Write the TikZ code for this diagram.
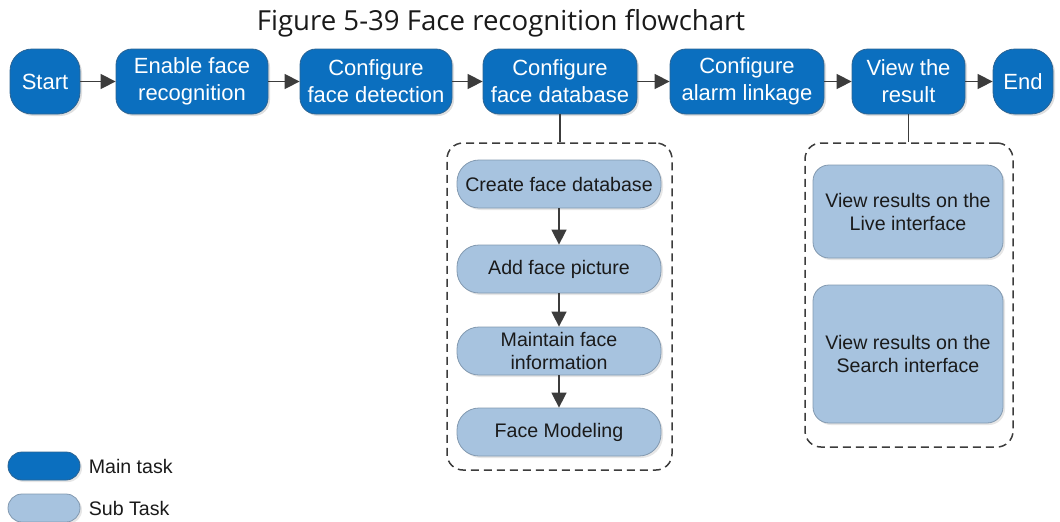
\documentclass[tikz,border=0pt]{standalone}
\usepackage{fontspec}
\setmainfont{Liberation Sans}
\newfontfamily\titlefont{Open Sans}
\usetikzlibrary{arrows.meta,positioning,shadows}
\definecolor{mainblue}{HTML}{0B6FBF}
\definecolor{mainedge}{HTML}{2B6494}
\definecolor{subblue}{HTML}{A7C3DF}
\definecolor{subedge}{HTML}{8299B0}
\definecolor{flowink}{HTML}{3C3C3C}
\definecolor{textink}{HTML}{1A1A1A}

\begin{document}
\begin{tikzpicture}[
  x=0.5pt,
  y=-0.5pt,
  every node/.style={textink},
  mainbox/.style={draw=mainedge, line width=0.4pt, fill=mainblue, text=white,
                  rounded corners=8pt, align=center, inner sep=1pt,
                  minimum height=32.5pt, font=\fontsize{11}{13.5}\selectfont,
                  drop shadow={opacity=0.25, shadow xshift=1pt, shadow yshift=-1pt}},
  endbox/.style={mainbox, rounded corners=11pt},
  subbox/.style={draw=subedge, line width=0.4pt, fill=subblue, text=textink,
                 rounded corners=11pt, align=center, inner sep=1pt,
                 minimum width=102pt, minimum height=24pt,
                 font=\fontsize{9.8}{11.5}\selectfont,
                 drop shadow={opacity=0.2, shadow xshift=1pt, shadow yshift=-1pt}},
  viewbox/.style={subbox, rounded corners=8pt, minimum width=95pt},
  group/.style={draw=flowink, line width=0.75pt, dash pattern=on 4pt off 2.5pt,
                rounded corners=8pt, inner sep=0pt},
  flow/.style={flowink, line width=0.75pt, -{Triangle[length=7.5pt, width=7.5pt]}},
  link/.style={flowink, line width=0.75pt},
  legend/.style={draw=subedge, line width=0.4pt, rounded corners=7pt,
                 minimum width=36pt, minimum height=14pt, inner sep=0pt,
                 drop shadow={opacity=0.2, shadow xshift=1pt, shadow yshift=-1pt}},
  legendtext/.style={anchor=west, inner sep=0pt, font=\fontsize{9.8}{11.5}\selectfont}
]
  \useasboundingbox (0,0) rectangle (1060,521);

  % ---- title ----
  \node[font=\titlefont\fontsize{13.8}{16}\selectfont] (title) at (501,23)
    {Figure 5-39 Face recognition flowchart};

  % ---- main tasks ----
  \node[endbox, minimum width=35pt]  (start)  at (45,81.5)   {Start};
  \node[mainbox, minimum width=76pt] (enable) at (192,81.5)  {Enable face\\recognition};
  \node[mainbox, minimum width=76pt] (detect) at (376,81.5)  {Configure\\face detection};
  \node[mainbox, minimum width=77pt] (db)     at (560,81.5)  {Configure\\face database};
  \node[mainbox, minimum width=77pt] (alarm)  at (747,81.5)  {Configure\\alarm linkage};
  \node[mainbox, minimum width=56.5pt] (view) at (908.5,81.5) {View the\\result};
  \node[endbox, minimum width=30pt]  (finish) at (1023,81.5) {End};

  \draw[flow] (start)  -- (enable);
  \draw[flow] (enable) -- (detect);
  \draw[flow] (detect) -- (db);
  \draw[flow] (db)     -- (alarm);
  \draw[flow] (alarm)  -- (view);
  \draw[flow] (view)   -- (finish);

  % ---- face database sub tasks ----
  \node[group, minimum width=112.5pt, minimum height=163.5pt] (dbgroup) at (559.5,306.5) {};
  \node[subbox] (create)   at (559,184) {Create face database};
  \node[subbox] (addpic)   at (559,269) {Add face picture};
  \node[subbox] (maintain) at (559,351) {Maintain face\\information};
  \node[subbox] (model)    at (559,432) {Face Modeling};

  \draw[link] (db.south) -- (db.south |- dbgroup.north);
  \draw[flow] (create)   -- (addpic);
  \draw[flow] (addpic)   -- (maintain);
  \draw[flow] (maintain) -- (model);

  % ---- result sub tasks ----
  \node[group, minimum width=104pt, minimum height=152pt] (viewgroup) at (909,295) {};
  \node[viewbox, minimum height=46.5pt] (live)   at (908,211.5) {View results on the\\Live interface};
  \node[viewbox, minimum height=69pt]   (search) at (908,354)   {View results on the\\Search interface};

  \draw[link] (view.south) -- (view.south |- viewgroup.north);

  % ---- legend ----
  \node[legend, fill=mainblue, draw=mainedge] (mainkey) at (44,466) {};
  \node[legend, fill=subblue] (subkey) at (44,508) {};
  \node[legendtext, right=4pt of mainkey] (maintext) {Main task};
  \node[legendtext, right=4pt of subkey]  (subtext)  {Sub Task};
\end{tikzpicture}
\end{document}
